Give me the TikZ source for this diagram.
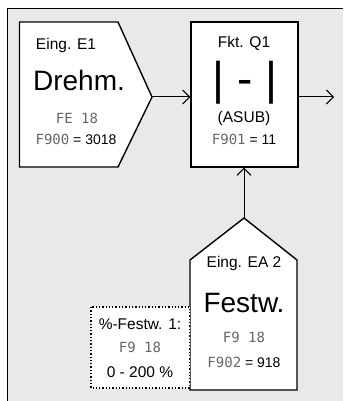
\documentclass[tikz,border=0pt]{standalone}
\usepackage{fontspec}
\setmainfont{Liberation Sans}
\newfontfamily\segfont{DejaVu Sans Mono}
\usetikzlibrary{arrows.meta}
\definecolor{bg}{HTML}{E9E9E9}
\newcommand{\sg}[1]{{\segfont\fontsize{14}{16}\selectfont\color{black!60}#1}}
\begin{document}
\begin{tikzpicture}[x=1pt,y=-1pt,
  blk/.style={draw=black,fill=white,line width=1.4pt},
  conn/.style={line width=1pt,-{Straight Barb[length=7pt,width=14pt,line width=1pt]}},
  txt/.style={inner sep=0pt,anchor=center},
  small/.style={txt,font=\fontsize{15.5}{18}\selectfont},
  big/.style={txt,font=\fontsize{28}{32}\selectfont},
  val/.style={txt,font=\fontsize{14}{16}\selectfont}]
\useasboundingbox (0,0) rectangle (343,401);
\fill[bg] (7.5,8.5) rectangle (343,401);
\draw[line width=1.3pt] (7.5,401) -- (7.5,8.5) -- (343,8.5);
% left pentagon
\draw[blk] (19.5,22) -- (118,22) -- (152,97) -- (118,167) -- (19.5,167) -- cycle;
\coordinate (e1tip) at (152,97);
\node[small] (e1t) at (66,45) {Eing. E1};
\node[big] (e1b) at (79,80) {Drehm.};
\node[txt] (e1s) at (77,118) {\sg{FE 18}};
\node[val] (e1v) at (76,139) {\sg{F900} = 3018};
% Q1 box
\node[blk,minimum width=107pt,minimum height=145pt,inner sep=0pt] (q1) at (244.5,94.5) {};
\node[small] (q1t) at (244,43) {Fkt. Q1};
\node[txt,font=\fontsize{46}{50}\selectfont] (q1b) at (245,83) {| - |};
\node[small] (q1a) at (244,118) {(ASUB)};
\node[val] (q1v) at (244,139) {\sg{F901} = 11};
\coordinate (out) at (334,97);
% bottom pentagon
\draw[blk] (190,390) -- (190,260) -- (244,218) -- (297,260) -- (297,390) -- cycle;
\coordinate (ea2tip) at (244,218);
\node[small] (ea2t) at (244,263) {Eing. EA 2};
\node[big] (ea2b) at (244,303) {Festw.};
\node[txt] (ea2s) at (244,337) {\sg{F9 18}};
\node[val] (ea2v) at (244,362) {\sg{F902} = 918};
% dotted box
\draw[fill=white,dotted,line width=1.3pt] (91,307) rectangle (189.5,388);
\node[small] (pt) at (140,324) {\%-Festw. 1:};
\node[txt] (ps) at (140,347) {\sg{F9 18}};
\node[small] (pr) at (140,372) {0 - 200 \%};
% connectors
\draw[conn] (e1tip) -- (q1.west|-e1tip);
\draw[conn] (q1.east|-out) -- (out);
\draw[conn] (ea2tip) -- (q1.south-|ea2tip);
\end{tikzpicture}
\end{document}
